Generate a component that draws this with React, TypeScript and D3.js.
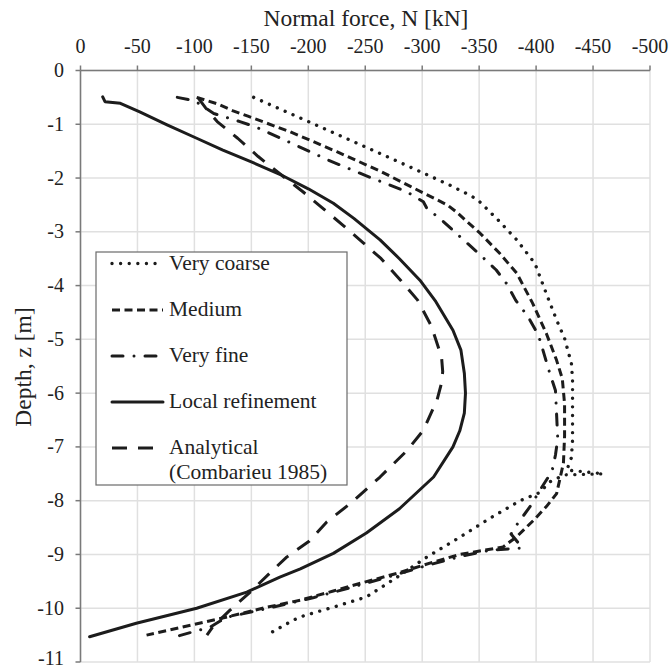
import React from "react";
import * as d3 from "d3";

const xTicks = [0, -50, -100, -150, -200, -250, -300, -350, -400, -450, -500];
const yTicks = [0, -1, -2, -3, -4, -5, -6, -7, -8, -9, -10, -11];

// [N (kN), z (m)]
const veryCoarse: [number, number][] = [
  [-152, -0.5], [-200, -0.95], [-250, -1.42], [-292, -1.82], [-324, -2.13], [-342, -2.32], [-349, -2.41],
  [-368, -2.81], [-383, -3.15], [-399, -3.59], [-409, -4.15], [-418, -4.64], [-425, -4.98], [-431, -5.45],
  [-432, -5.75], [-432, -6.3], [-432, -6.87], [-431, -7.2], [-427, -7.43], [-459, -7.5], [-425, -7.52],
  [-412, -7.65], [-403, -7.85], [-386, -8.0], [-360, -8.32], [-333, -8.68], [-304, -9.05], [-276, -9.45],
  [-251, -9.79], [-222, -9.98], [-196, -10.14], [-187, -10.22], [-166, -10.47],
];

const medium: [number, number][] = [
  [-102, -0.5], [-120, -0.62], [-134, -0.75], [-147, -0.85], [-184, -1.14], [-201, -1.29], [-225, -1.51],
  [-262, -1.86], [-290, -2.16], [-322, -2.5], [-330, -2.63], [-351, -3.03], [-368, -3.4], [-383, -3.77],
  [-397, -4.33], [-409, -4.89], [-418, -5.39], [-423, -5.73], [-425, -6.2], [-425, -6.8], [-424, -7.3],
  [-418, -7.87], [-409, -8.11], [-398, -8.36], [-383, -8.67], [-371, -8.86], [-355, -8.92], [-333, -9.0],
  [-310, -9.14], [-278, -9.35], [-245, -9.54], [-222, -9.68], [-193, -9.85], [-164, -9.98], [-129, -10.16],
  [-100, -10.3], [-58, -10.5],
];

const veryFine: [number, number][] = [
  [-85, -0.5], [-100, -0.56], [-117, -0.8], [-140, -0.95], [-155, -1.06], [-185, -1.35], [-218, -1.67],
  [-251, -1.96], [-286, -2.25], [-301, -2.44], [-304, -2.56], [-317, -2.78], [-330, -3.03], [-351, -3.43],
  [-365, -3.71], [-374, -3.96], [-382, -4.27], [-393, -4.58], [-402, -4.92], [-406, -5.2], [-412, -5.63],
  [-417, -5.95], [-418, -6.4], [-419, -6.85], [-417, -7.15], [-414, -7.45], [-405, -7.75], [-395, -8.1],
  [-383, -8.45], [-378, -8.62], [-388, -8.88], [-360, -8.92], [-335, -9.03], [-305, -9.2], [-270, -9.42],
  [-240, -9.6], [-205, -9.8], [-165, -10.0], [-128, -10.17], [-114, -10.35], [-80, -10.55],
];

const localRefinement: [number, number][] = [
  [-19.5, -0.49], [-21.5, -0.58], [-35, -0.61], [-52, -0.77], [-76, -1.01], [-102, -1.26], [-125, -1.48],
  [-150, -1.7], [-175, -1.93], [-200, -2.2], [-222, -2.47], [-240, -2.75], [-263, -3.15], [-280, -3.5],
  [-298, -3.9], [-312, -4.3], [-327, -4.83], [-334, -5.2], [-337, -5.63], [-338, -6.0], [-337, -6.37],
  [-333, -6.7], [-327, -7.0], [-310, -7.56], [-280, -8.15], [-251, -8.6], [-222, -8.98], [-193, -9.27],
  [-175, -9.42], [-146, -9.7], [-102, -10.0], [-49, -10.28], [-8, -10.53],
];

const analytical: [number, number][] = [
  [-103, -0.5], [-110, -0.7], [-120, -0.95], [-138, -1.26], [-156, -1.6], [-175, -1.92], [-195, -2.25],
  [-212, -2.55], [-230, -2.87], [-248, -3.2], [-264, -3.5], [-281, -3.9], [-296, -4.27], [-308, -4.75],
  [-317, -5.33], [-318, -5.6], [-317, -5.81], [-313, -6.13], [-301, -6.69], [-287, -7.06], [-263, -7.56],
  [-237, -8.05], [-216, -8.4], [-201, -8.75], [-181, -9.05], [-166, -9.35], [-149, -9.7], [-131, -10.04],
  [-116, -10.35], [-111, -10.5],
];

const seriesNames = ["Very coarse", "Medium", "Very fine", "Local refinement", "Analytical"];

const INK = "#1c1c1c";
const styles: { dash: string; width: number; cap: "round" | "butt" }[] = [
  { dash: "0.01 8.6", width: 3.4, cap: "round" },
  { dash: "8 4.5", width: 3, cap: "butt" },
  { dash: "11 11 0.01 11", width: 3, cap: "round" },
  { dash: "", width: 3, cap: "round" },
  { dash: "15 11", width: 3, cap: "butt" },
];

export default function App() {
  const W = 670, H = 670;
  const x = d3.scaleLinear().domain([0, -500]).range([80.5, 650]);
  const y = d3.scaleLinear().domain([0, -11]).range([70.5, 662]);
  const line = d3.line<[number, number]>().x((d) => x(d[0])).y((d) => y(d[1]));
  const data = [veryCoarse, medium, veryFine, localRefinement, analytical];
  const font = "Liberation Serif";

  const legendRows = [263.5, 310, 356, 402, 448];
  const txt = { fontFamily: font, fill: "#222" };

  return (
    <svg width={W} height={H} style={{ position: "absolute", left: 0, top: 0, background: "#fff" }}>
      <rect x={0} y={0} width={W} height={H} fill="#fff" />
      {/* grid */}
      {xTicks.map((t) => (
        <line key={"gx" + t} x1={x(t)} x2={x(t)} y1={y(0)} y2={y(-11)} stroke="#e0e0e0" strokeWidth={1.5} />
      ))}
      {yTicks.map((t) => (
        <line key={"gy" + t} x1={x(0)} x2={x(-500)} y1={y(t)} y2={y(t)} stroke="#e0e0e0" strokeWidth={1.5} />
      ))}
      {/* axes */}
      <line x1={x(0)} x2={x(-500)} y1={y(0)} y2={y(0)} stroke="#7a7a7a" strokeWidth={1.5} />
      <line x1={x(0)} x2={x(0)} y1={y(0)} y2={y(-11)} stroke="#7a7a7a" strokeWidth={1.5} />
      {xTicks.map((t) => (
        <g key={"tx" + t}>
          <line x1={x(t)} x2={x(t)} y1={y(0) - 5} y2={y(0)} stroke="#7a7a7a" strokeWidth={1.5} />
          <text x={x(t)} y={53} textAnchor="middle" fontSize={20} style={txt}>{t}</text>
        </g>
      ))}
      {yTicks.map((t) => (
        <g key={"ty" + t}>
          <line x1={x(0) - 5} x2={x(0)} y1={y(t)} y2={y(t)} stroke="#7a7a7a" strokeWidth={1.5} />
          <text x={64} y={Math.min(y(t) + 6.5, 665)} textAnchor="end" fontSize={20} style={txt}>{t}</text>
        </g>
      ))}
      {/* titles */}
      <text x={366} y={26} textAnchor="middle" fontSize={23.5} style={txt}>Normal force, N [kN]</text>
      <text transform="translate(31,367) rotate(-90)" textAnchor="middle" fontSize={23.5} style={txt}>Depth, z [m]</text>
      {/* series */}
      {data.map((d, i) => (
        <path key={"s" + i} d={line(d) || ""} fill="none" stroke={INK} strokeWidth={styles[i].width}
          strokeDasharray={styles[i].dash || undefined} strokeLinecap={styles[i].cap} strokeLinejoin="round" />
      ))}
      {/* legend */}
      <rect x={96} y={252} width={251} height={233} fill="#fff" stroke="#6a6a6a" strokeWidth={1.2} />
      {seriesNames.map((n, i) => (
        <g key={"lg" + i}>
          <line x1={112} x2={163} y1={legendRows[i]} y2={legendRows[i]} stroke={INK} strokeWidth={styles[i].width}
            strokeDasharray={styles[i].dash || undefined} strokeLinecap={styles[i].cap} />
          <text x={169} y={legendRows[i] + 6} fontSize={21.5} style={txt}>{n}</text>
        </g>
      ))}
      <text x={169} y={478.5} fontSize={21.5} style={txt}>(Combarieu 1985)</text>
    </svg>
  );
}
